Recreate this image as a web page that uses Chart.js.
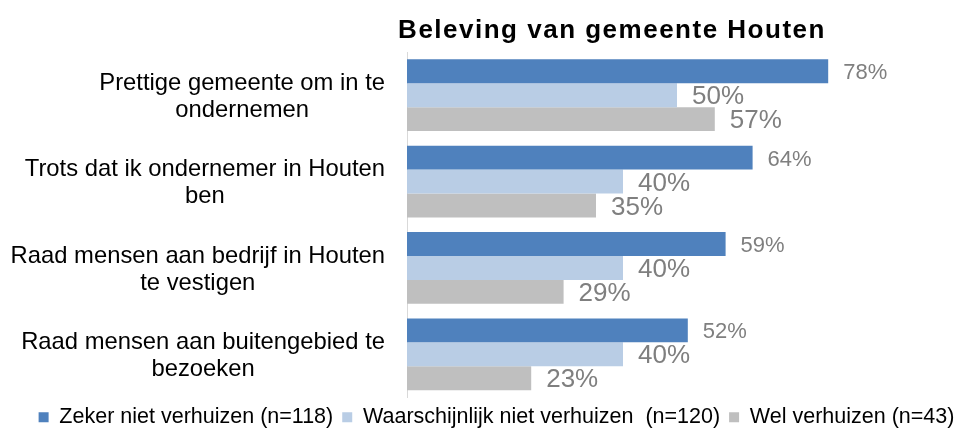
<!DOCTYPE html>
<html><head><meta charset="utf-8">
<script src="https://cdn.jsdelivr.net/npm/chart.js@4/dist/chart.umd.min.js"></script>
<style>html,body{margin:0;padding:0;background:#fff}</style>
</head><body>
<canvas id="c" width="969" height="430"></canvas>
<script>
const chartTitle = 'Beleving van gemeente Houten';
const categories = [
  ['Prettige gemeente om in te', 'ondernemen'],
  ['Trots dat ik ondernemer in Houten', 'ben'],
  ['Raad mensen aan bedrijf in Houten', 'te vestigen'],
  ['Raad mensen aan buitengebied te', 'bezoeken']
];
const seriesNames = ['Zeker niet verhuizen (n=118)', 'Waarschijnlijk niet verhuizen  (n=120)', 'Wel verhuizen (n=43)'];
const zekerNiet = [78, 64, 59, 52];
const waarschijnlijkNiet = [50, 40, 40, 40];
const welVerhuizen = [57, 35, 29, 23];
const seriesColors = ['#4f81bd', '#b9cde5', '#bfbfbf'];

const FONT = '"Liberation Sans", Arial, sans-serif';

const textPlugin = {
  id: 'texts',
  afterDatasetsDraw(chart) {
    const ctx = chart.ctx;
    chart.data.datasets.forEach((ds, di) => {
      const meta = chart.getDatasetMeta(di);
      ctx.save();
      ctx.font = (di === 0 ? '22px ' : '26px ') + FONT;
      ctx.fillStyle = '#7f7f7f';
      ctx.textAlign = 'left';
      ctx.textBaseline = 'middle';
      meta.data.forEach((bar, i) => {
        ctx.fillText(ds.data[i] + '%', bar.x + 15, bar.y + 2);
      });
      ctx.restore();
    });
  },
  afterDraw(chart) {
    const ctx = chart.ctx;
    const y = chart.scales.y;
    ctx.save();
    ctx.font = '23.8px ' + FONT;
    ctx.fillStyle = '#000';
    ctx.textAlign = 'center';
    ctx.textBaseline = 'middle';
    const right = y.right - 22;
    const lh = 27;
    categories.forEach((lines, i) => {
      const yc = y.getPixelForTick(i) + 1.5;
      const w = Math.max(...lines.map(l => ctx.measureText(l).width));
      const cx = right - w / 2;
      lines.forEach((l, j) => ctx.fillText(l, cx, yc + (j - (lines.length - 1) / 2) * lh));
    });
    ctx.restore();
    ctx.save();
    ctx.letterSpacing = '1.5px';
    ctx.font = 'bold 26px ' + FONT;
    ctx.fillStyle = '#000';
    ctx.textAlign = 'center';
    ctx.textBaseline = 'middle';
    ctx.fillText(chartTitle, 612, 31);
    ctx.restore();
  }
};

new Chart(document.getElementById('c'), {
  type: 'bar',
  data: {
    labels: categories,
    datasets: [
      { label: seriesNames[0], data: zekerNiet, backgroundColor: seriesColors[0] },
      { label: seriesNames[1], data: waarschijnlijkNiet, backgroundColor: seriesColors[1] },
      { label: seriesNames[2], data: welVerhuizen, backgroundColor: seriesColors[2] }
    ]
  },
  options: {
    indexAxis: 'y',
    responsive: false,
    devicePixelRatio: 1,
    animation: false,
    events: [],
    datasets: { bar: { categoryPercentage: 0.83, barPercentage: 1.0 } },
    layout: { padding: { left: 24, right: 0, top: 52, bottom: -8 } },
    scales: {
      x: { display: false, min: 0, max: 100 },
      y: {
        grid: { display: false },
        border: { display: true, color: '#d9d9d9', width: 1 },
        ticks: { display: false },
        afterFit(scale) { scale.width = 383; }
      },
      yRight: {
        type: 'category',
        position: 'right',
        display: true,
        grid: { display: false },
        border: { display: false },
        ticks: { display: false },
        afterFit(scale) { scale.width = 22; }
      }
    },
    plugins: {
      title: { display: false },
      tooltip: { enabled: false },
      legend: {
        position: 'bottom',
        labels: {
          boxWidth: 10, boxHeight: 10, padding: 9,
          color: '#000',
          font: { family: FONT, size: 21.5, lineHeight: 1.0 }
        }
      }
    }
  },
  plugins: [textPlugin]
});
</script>
</body></html>
